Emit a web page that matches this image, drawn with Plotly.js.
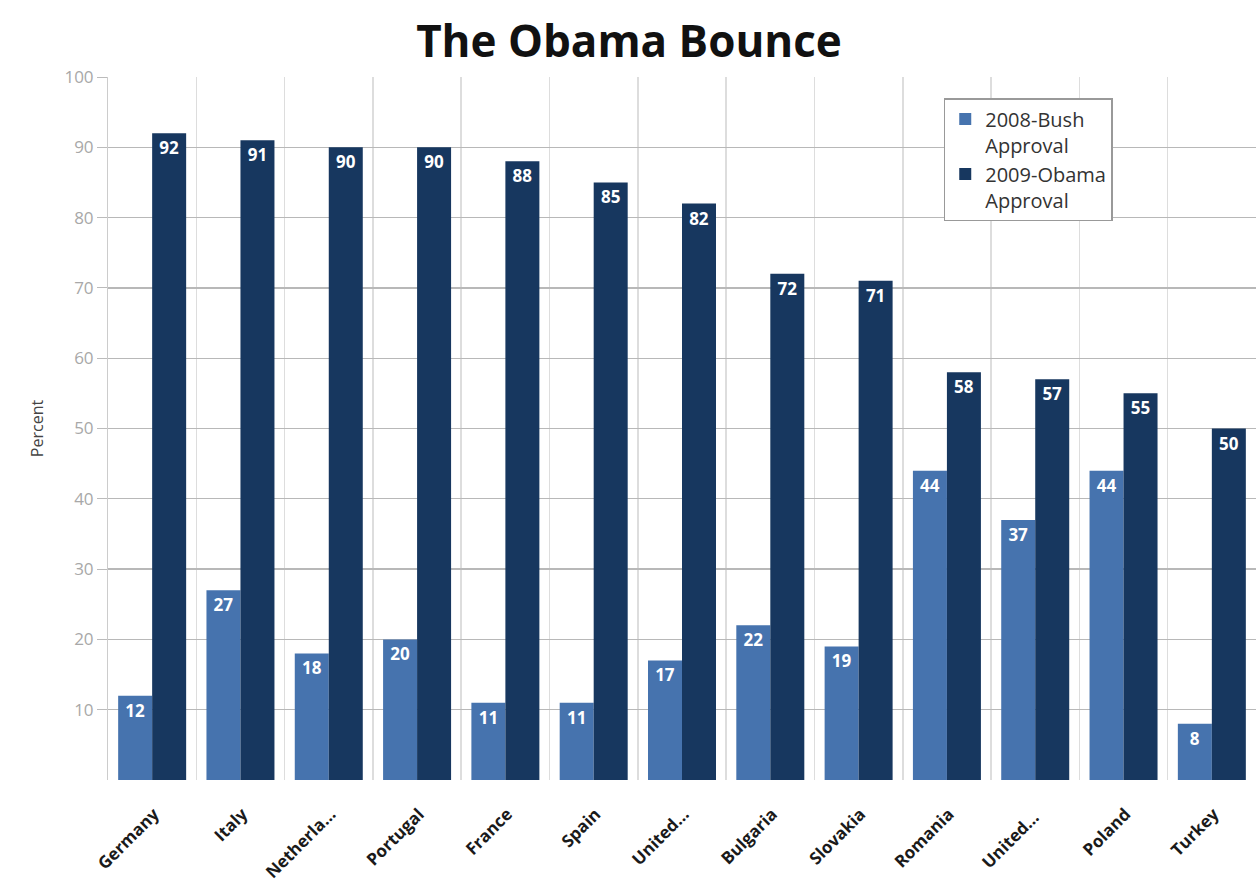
<!DOCTYPE html>
<html>
<head>
<meta charset="utf-8">
<script src="https://cdn.plot.ly/plotly-3.0.1.min.js"></script>
<style>html,body{margin:0;padding:0;background:#fff;}#chart{width:1258px;height:889px;}</style>
</head>
<body>
<div id="chart"></div>
<script>
var countries = ["Germany","Italy","Netherla…","Portugal","France","Spain","United…","Bulgaria","Slovakia","Romania","United… ","Poland","Turkey"];
var bush2008 = [12,27,18,20,11,11,17,22,19,44,37,44,8];
var obama2009 = [92,91,90,90,88,85,82,72,71,58,57,55,50];
var seriesNames = ["2008-Bush<br>Approval","2009-Obama<br>Approval"];
var yTicks = [10,20,30,40,50,60,70,80,90,100];

var FONT = "Open Sans, Noto Sans, sans-serif";
var labelFont = {family: FONT, size: 17, color: "#ffffff", weight: "bold"};

var traces = [
  {type:"bar", name: seriesNames[0], x: countries, y: bush2008,
   marker:{color:"#4673ae"}, text: bush2008.map(String), textposition:"inside",
   insidetextanchor:"end", textangle:0, textfont: labelFont, constraintext:"none", cliponaxis:false},
  {type:"bar", name: seriesNames[1], x: countries, y: obama2009,
   marker:{color:"#17375f"}, text: obama2009.map(String), textposition:"inside",
   insidetextanchor:"end", textangle:0, textfont: labelFont, constraintext:"none", cliponaxis:false}
];

var layout = {
  width:1258, height:889,
  margin:{l:108, r:2, t:77, b:109},
  paper_bgcolor:"#ffffff", plot_bgcolor:"#ffffff",
  barmode:"group", bargap:0.23, bargroupgap:0,
  title:{text:"The Obama Bounce", x:0.5, xanchor:"center", y:0.953, yanchor:"middle",
         font:{family:FONT, size:44, color:"#111111", weight:"bold"}},
  xaxis:{type:"category", tickson:"boundaries", showgrid:true, gridcolor:"#dddddd", gridwidth:1.5,
         tickangle:-45, tickfont:{family:FONT, size:17, color:"#1a1a1a", weight:"bold"},
         ticklabelstandoff:20, ticklabelshift:2,
         showline:false, ticks:"", zeroline:false},
  yaxis:{range:[0,100], tickvals:yTicks, showgrid:true, gridcolor:"#b8b8b8", gridwidth:1.3,
         tickfont:{family:FONT, size:17, color:"#a8a8a8"}, ticks:"outside", ticklen:10,
         tickcolor:"#bbbbbb", showline:true, linecolor:"#cccccc", zeroline:false,
         title:{text:"Percent", font:{family:FONT, size:16, color:"#444444"}, standoff:16}},
  legend:{x:0.728, y:0.97, xanchor:"left", yanchor:"top", bgcolor:"#ffffff",
          bordercolor:"#999999", borderwidth:1.5, valign:"top", tracegroupgap:28,
          font:{family:FONT, size:20, color:"#333333"}, traceorder:"normal"},
  showlegend:true
};

Plotly.newPlot("chart", traces, layout, {displayModeBar:false, staticPlot:true});
</script>
</body>
</html>
